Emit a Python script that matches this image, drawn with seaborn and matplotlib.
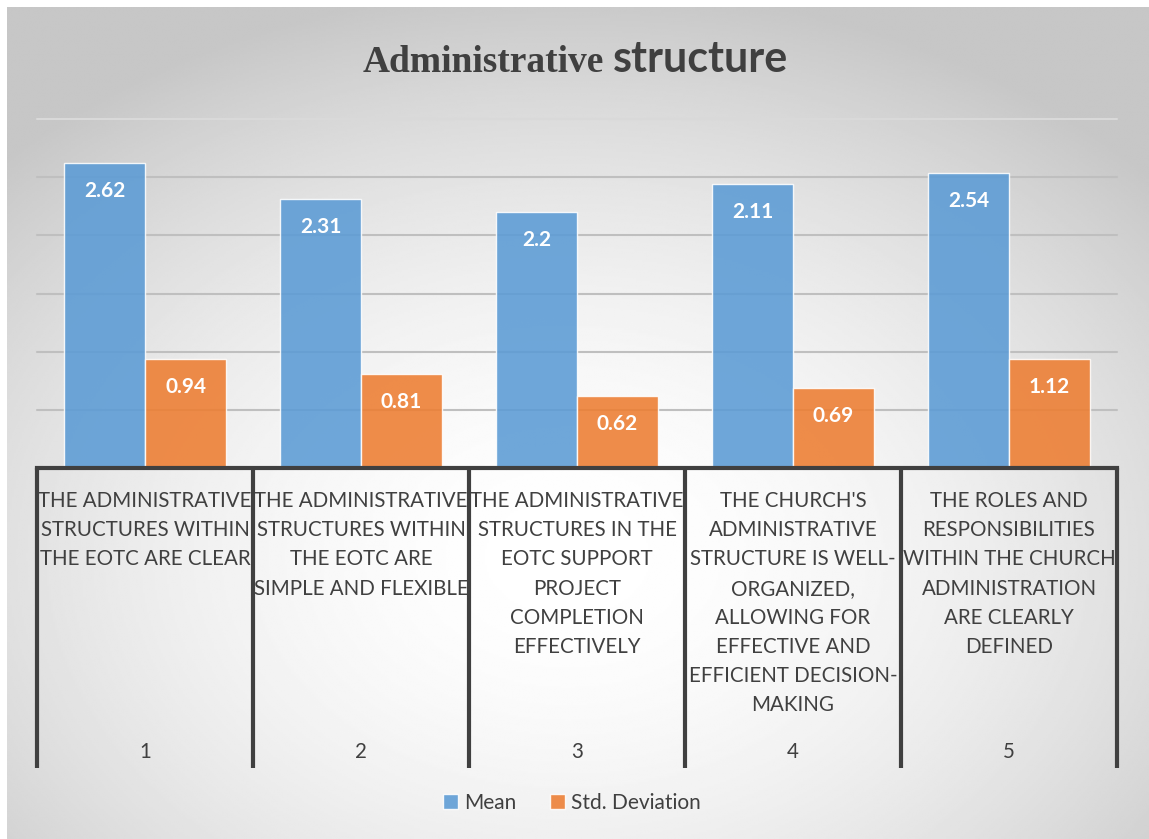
import numpy as np
import pandas as pd
import matplotlib
matplotlib.use("Agg")
import matplotlib.pyplot as plt
import matplotlib.transforms as mtransforms
from matplotlib.patches import Patch
import seaborn as sns

# ---------------- data ----------------
categories = ["1", "2", "3", "4", "5"]
statements = [
    "THE ADMINISTRATIVE\nSTRUCTURES WITHIN\nTHE EOTC ARE CLEAR",
    "THE ADMINISTRATIVE\nSTRUCTURES WITHIN\nTHE EOTC ARE\nSIMPLE AND FLEXIBLE",
    "THE ADMINISTRATIVE\nSTRUCTURES IN THE\nEOTC SUPPORT\nPROJECT\nCOMPLETION\nEFFECTIVELY",
    "THE CHURCH'S\nADMINISTRATIVE\nSTRUCTURE IS WELL-\nORGANIZED,\nALLOWING FOR\nEFFECTIVE AND\nEFFICIENT DECISION-\nMAKING",
    "THE ROLES AND\nRESPONSIBILITIES\nWITHIN THE CHURCH\nADMINISTRATION\nARE CLEARLY\nDEFINED",
]
series_names = ["Mean", "Std. Deviation"]
# bar heights as drawn in the picture
mean_values = [2.62, 2.31, 2.20, 2.44, 2.54]
std_values = [0.94, 0.81, 0.62, 0.69, 0.94]
# data labels as printed on the bars
mean_labels = ["2.62", "2.31", "2.2", "2.11", "2.54"]
std_labels = ["0.94", "0.81", "0.62", "0.69", "1.12"]

df = pd.DataFrame({
    "category": categories * 2,
    "series": [series_names[0]] * 5 + [series_names[1]] * 5,
    "value": mean_values + std_values,
})

W, H = 1149, 839
sns.set_theme(style="white")
plt.rcParams["font.family"] = ["Lato", "DejaVu Sans"]

fig = plt.figure(figsize=(W / 100, H / 100), dpi=100)
fig.patch.set_facecolor("white")

# radial gradient background
bg = fig.add_axes([7 / W, 0, 1 - 7 / W, 1 - 7 / H], zorder=-10)
yy, xx = np.mgrid[0:400, 0:560]
cx, cy = 0.49, 0.66
r = np.sqrt(((xx / 560) - cx) ** 2 + ((yy / 400) - cy) ** 2)
val = np.clip(1 - 0.20 * (r / 0.65) ** 1.8, 0.78, 1.0)
bg.imshow(val, cmap="gray", vmin=0, vmax=1, aspect="auto", interpolation="bilinear")
bg.axis("off")

x0, x1 = 37, 1117
yb, yt = 468, 119
ax = fig.add_axes([x0 / W, 1 - yb / H, (x1 - x0) / W, (yb - yt) / H])
ax.set_facecolor("none")

colors = {"Mean": "#5B9BD5", "Std. Deviation": "#ED7D31"}
sns.barplot(data=df, x="category", y="value", hue="series", palette=colors,
            width=0.75, alpha=0.88, ax=ax, legend=False, saturation=1,
            edgecolor="white", linewidth=1.0, zorder=3)

ax.set_xlim(-0.5, 4.5)
ax.set_ylim(0, 3.0)
ax.set_yticks([0.5, 1.0, 1.5, 2.0, 2.5, 3.0])
ax.set_yticklabels([])
ax.set_xticks([])
ax.set_xlabel("")
ax.set_ylabel("")
ax.tick_params(left=False, bottom=False)
for yv in [0.5, 1.0, 1.5, 2.0, 2.5, 3.0]:
    ax.axhline(yv, color="#BFBFBF" if yv < 3 else "#D9D9D9", lw=1.5, zorder=1, clip_on=False)
for s in ["top", "left", "right"]:
    ax.spines[s].set_visible(False)
ax.spines["bottom"].set_color("#404040")
ax.spines["bottom"].set_linewidth(3)
ax.spines["bottom"].set_zorder(5)

# data labels
for cont, labs in zip(ax.containers, [mean_labels, std_labels]):
    for bar, lab in zip(cont, labs):
        ax.annotate(lab, (bar.get_x() + bar.get_width() / 2, bar.get_height()),
                    xytext=(0, -28 * 0.72), textcoords="offset points",
                    ha="center", va="center", color="white", fontsize=15,
                    fontweight="bold", zorder=6)

# category table below axis
tr = mtransforms.blended_transform_factory(ax.transData, fig.transFigure)
for xb in np.arange(-0.5, 5.0, 1.0):
    ax.plot([xb, xb], [1 - yb / H, 1 - 768 / H], transform=tr, color="#404040",
            lw=3, clip_on=False, solid_capstyle="butt", zorder=5)
line_step = 29.2
for i, (st, c) in enumerate(zip(statements, categories)):
    for j, line in enumerate(st.split("\n")):
        ax.text(i, 1 - (501 + line_step * j) / H, line, transform=tr, ha="center",
                va="center", fontsize=14.8, color="#404040")
    ax.text(i, 1 - 752 / H, c, transform=tr, ha="center", va="center",
            fontsize=14.8, color="#404040")

# legend
handles = [Patch(facecolor=colors[s], alpha=0.88, edgecolor="white") for s in series_names]
fig.legend(handles, series_names, loc="center", bbox_to_anchor=(572 / W, 1 - 803 / H),
           ncol=2, frameon=False, fontsize=15, handlelength=0.7, handleheight=0.7,
           handletextpad=0.3, columnspacing=1.6, labelcolor="#404040")

# title (two fonts)
fig.text(604 / W, 1 - 72 / H, "Administrative", ha="right", va="baseline",
         fontsize=27, fontweight="bold", color="#404040", family=["Liberation Serif"])
fig.text(613 / W, 1 - 72 / H, "structure", ha="left", va="baseline",
         fontsize=31, fontweight="bold", color="#404040", family=["Lato"])

fig.savefig("out.png", dpi=100)
